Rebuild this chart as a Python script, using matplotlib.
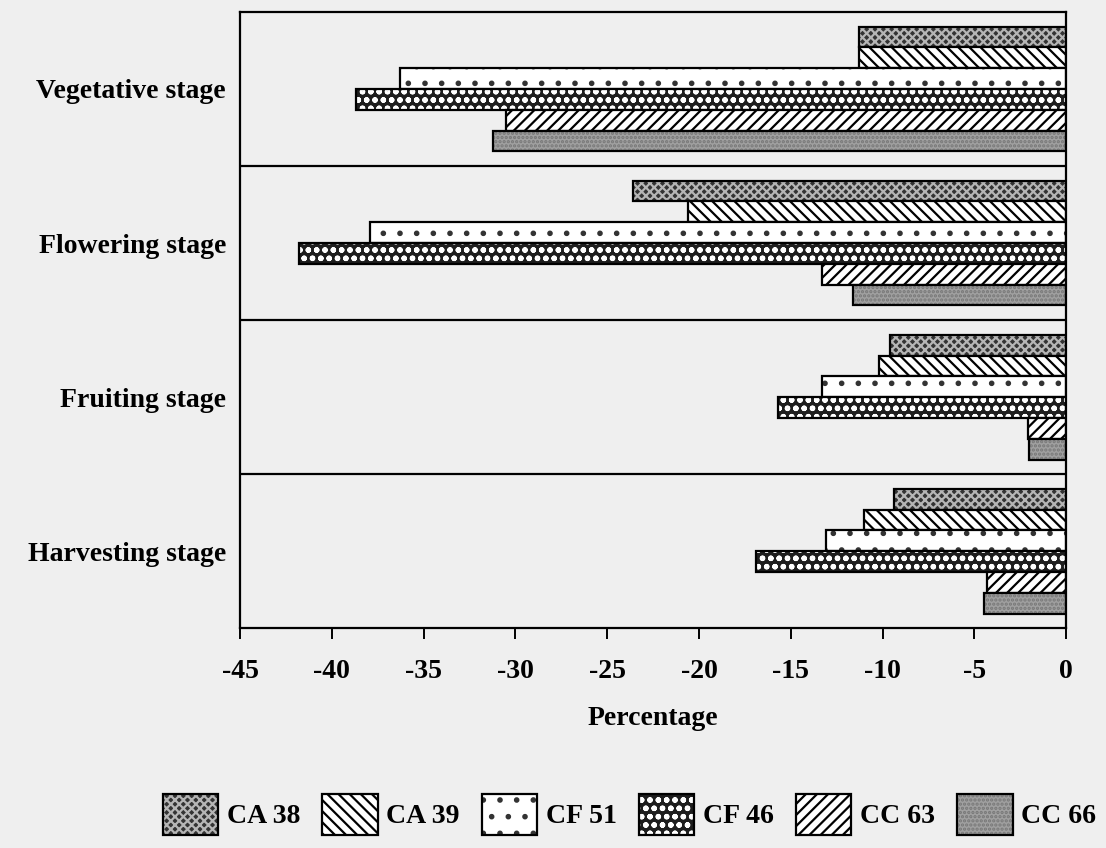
import matplotlib.pyplot as plt
from matplotlib.patches import Patch
from matplotlib.legend_handler import HandlerTuple

plt.rcParams['font.family'] = ['Liberation Serif', 'DejaVu Serif']
plt.rcParams['font.weight'] = 'bold'
plt.rcParams['axes.unicode_minus'] = False
plt.rcParams['hatch.linewidth'] = 1.6

# stages (top to bottom) and genotypes
stages = ['Vegetative stage', 'Flowering stage', 'Fruiting stage', 'Harvesting stage']
genotypes = ['CA 38', 'CA 39', 'CF 51', 'CF 46', 'CC 63', 'CC 66']

# percentage change per genotype, one value per stage
ca38 = [-11.3, -23.6, -9.6, -9.4]
ca39 = [-11.3, -20.6, -10.2, -11.0]
cf51 = [-36.3, -37.9, -13.3, -13.1]
cf46 = [-38.7, -41.8, -15.7, -16.9]
cc63 = [-30.5, -13.3, -2.1, -4.3]
cc66 = [-31.2, -11.6, -2.0, -4.5]
series = [ca38, ca39, cf51, cf46, cc63, cc66]

# (face colour, hatch colour, hatch) for each genotype
styles = [
    ('#333333', '#b5b5b5', 'xxxx'),
    ('white', 'black', '\\\\\\'),
    ('white', '#333333', '.'),
    ('#1e1e1e', 'white', 'oo'),
    ('white', 'black', '///'),
    ('#a0a0a0', '#777777', '....'),
]

paper = '#efefef'
fig, ax = plt.subplots(figsize=(11.06, 8.48), dpi=100)
fig.patch.set_facecolor(paper)
ax.set_facecolor(paper)
fig.subplots_adjust(left=0.217, right=0.964, top=0.986, bottom=0.259)

h = 0.135
ypos = list(range(len(stages)))
handles = []
for i, (vals, (fc, hc, hat)) in enumerate(zip(series, styles)):
    y = [p + (i - 2.5) * h for p in ypos]
    ax.barh(y, vals, height=h, color=fc, edgecolor=hc, hatch=hat, linewidth=0)
    ax.barh(y, vals, height=h, fill=False, edgecolor='black', linewidth=1.6)
    handles.append((Patch(facecolor=fc, edgecolor=hc, hatch=hat, linewidth=0),
                    Patch(fill=False, edgecolor='black', linewidth=1.6)))

ax.set_xlim(-45, 0)
ax.set_xticks(range(-45, 1, 5))
ax.set_ylim(3.5, -0.5)
ax.set_yticks(ypos)
ax.set_yticklabels(stages, fontsize=20)
ax.set_yticks([0.5, 1.5, 2.5], minor=True)
ax.grid(which='minor', axis='y', color='black', linewidth=1.6)
ax.tick_params(axis='y', which='both', length=0, pad=10)
ax.tick_params(axis='x', labelsize=20, length=8, width=1.4, pad=14)
for s in ax.spines.values():
    s.set_linewidth(1.6)

ax.set_xlabel('Percentage', fontsize=20, fontweight='bold', labelpad=16)

fig.legend(handles, genotypes, handler_map={tuple: HandlerTuple(ndivide=1)},
           loc='center', bbox_to_anchor=(0.569, 0.04), ncol=6, frameon=False,
           fontsize=20, handlelength=2.0, handleheight=1.9, handletextpad=0.3,
           columnspacing=0.8)

fig.savefig('out.png', dpi=100, facecolor=paper)
